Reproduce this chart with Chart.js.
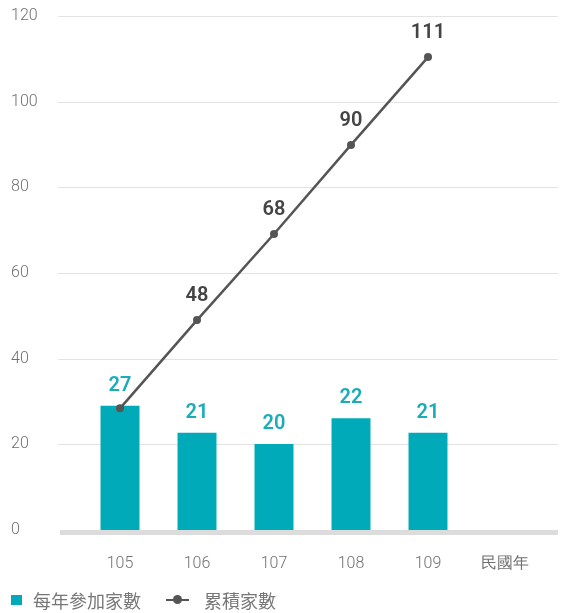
<!DOCTYPE html>
<html>
<head>
<meta charset="utf-8">
<script src="https://cdn.jsdelivr.net/npm/chart.js@4"></script>
<style>
  html, body { margin: 0; padding: 0; background: #fff; }
  #wrap { position: relative; width: 561px; height: 613px; }
  #legend {
    position: absolute; left: 11px; top: 589px;
    font-family: "Noto Sans CJK TC", "Noto Sans", sans-serif;
    font-size: 18px; color: #777; display: flex; align-items: center;
  }
  #legend .item { display: flex; align-items: center; margin-right: 25px; line-height: 22px; }
  .sq { width: 11px; height: 10px; background: #00aab8; margin-right: 11px; }
  .ln { position: relative; width: 23px; height: 2px; background: #555; margin-right: 15px; }
  .ln::after { content: ""; position: absolute; left: 7px; top: -4px; width: 9px; height: 9px; border-radius: 50%; background: #555; }
</style>
</head>
<body>
<div id="wrap">
  <canvas id="myChart" width="561" height="613"></canvas>
  <div id="legend">
    <div class="item"><span class="sq"></span><span>每年參加家數</span></div>
    <div class="item"><span class="ln"></span><span>累積家數</span></div>
  </div>
</div>
<script>
const years = ["105", "106", "107", "108", "109", "民國年"]
const yearlyCount = [29, 22.7, 20.1, 26.1, 22.7, null]
const yearlyLabels = ["27", "21", "20", "22", "21", null]
const totalCount = [28.4, 49, 69.1, 89.9, 110.4, null]
const totalLabels = [null, "48", "68", "90", "111", null]

const ctx = document.querySelector("#myChart")

// grid lines + thick baseline that run wider than the chart area
const backdrop = {
  id: "backdrop",
  beforeDatasetsDraw(chart) {
    const c = chart.ctx
    const y = chart.scales.y
    c.save()
    c.strokeStyle = "#e3e3e3"
    c.lineWidth = 1
    y.ticks.forEach(t => {
      if (t.value === 0) return
      const py = Math.round(y.getPixelForValue(t.value)) + 0.5
      c.beginPath()
      c.moveTo(58, py)
      c.lineTo(558, py)
      c.stroke()
    })
    c.fillStyle = "#dcdcdc"
    c.fillRect(60, y.getPixelForValue(0), 498, 5)
    c.restore()
  }
}

const valueLabels = {
  id: "valueLabels",
  afterDatasetsDraw(chart) {
    const c = chart.ctx
    c.save()
    c.textAlign = "center"
    c.textBaseline = "bottom"
    c.font = "600 20px Roboto"
    chart.getDatasetMeta(0).data.forEach((el, i) => {
      if (yearlyLabels[i] == null) return
      c.fillStyle = "#1aacba"
      c.fillText(yearlyLabels[i], el.x, el.y - 10)
    })
    chart.getDatasetMeta(1).data.forEach((el, i) => {
      if (totalLabels[i] == null) return
      c.fillStyle = "#444"
      c.fillText(totalLabels[i], el.x, el.y - 14)
    })
    c.restore()
  }
}

const data = {
  labels: years,
  datasets: [{
    type: "bar",
    label: "每年參加家數",
    data: yearlyCount,
    backgroundColor: "#00aab8",
    barPercentage: 0.506,
    categoryPercentage: 1,
    order: 1
  }, {
    type: "line",
    label: "累積家數",
    data: totalCount,
    borderColor: "#555",
    backgroundColor: "#555",
    borderWidth: 2.5,
    pointRadius: 4,
    pointBackgroundColor: "#555",
    pointBorderWidth: 0,
    order: 0
  }]
}

const options = {
  responsive: false,
  animation: false,
  layout: { padding: { left: 11, right: 17.5, top: 16, bottom: 33 } },
  plugins: {
    legend: { display: false },
    tooltip: { enabled: false }
  },
  scales: {
    x: {
      grid: { display: false },
      border: { display: false },
      ticks: {
        color: "#707070",
        font: { family: "Roboto", size: 16, weight: 300 },
        padding: 16,
        maxRotation: 0
      },
      afterFit: s => { s.height = 50 }
    },
    y: {
      min: 0,
      max: 120,
      grid: { display: false },
      border: { display: false },
      ticks: {
        stepSize: 20,
        color: "#707070",
        crossAlign: "far",
        font: { family: "Roboto", size: 16, weight: 300 }
      },
      afterFit: s => { s.width = 70.5 }
    }
  }
}

const config = {
  type: "bar",
  data: data,
  options: options,
  plugins: [backdrop, valueLabels]
}

const chart = new Chart(ctx, config)
</script>
</body>
</html>
